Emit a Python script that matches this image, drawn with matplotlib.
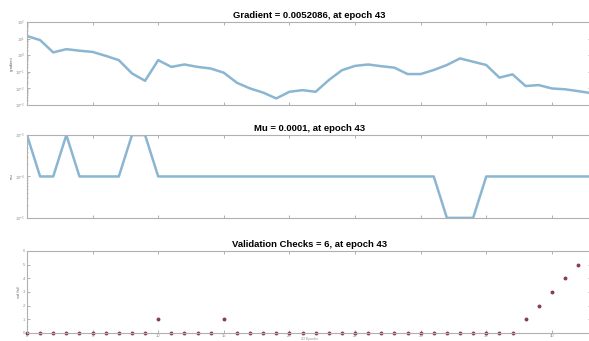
import numpy as np
import matplotlib
matplotlib.use('Agg')
import matplotlib.pyplot as plt

epochs = list(range(44))

gradient = [14.5, 8.3, 1.5, 2.35, 1.9, 1.6, 0.93, 0.51, 0.081, 0.029,
            0.51, 0.20, 0.28, 0.20, 0.16, 0.089, 0.022, 0.010, 0.0056, 0.0025,
            0.0063, 0.0079, 0.0063, 0.032, 0.126, 0.23, 0.28, 0.22, 0.18, 0.074,
            0.074, 0.13, 0.26, 0.65, 0.41, 0.26, 0.045, 0.071, 0.014, 0.016,
            0.010, 0.0089, 0.0069, 0.0052086]

mu = [1e-3, 1e-4, 1e-4, 1e-3, 1e-4, 1e-4, 1e-4, 1e-4, 1e-3, 1e-3,
      1e-4, 1e-4, 1e-4, 1e-4, 1e-4, 1e-4, 1e-4, 1e-4, 1e-4, 1e-4,
      1e-4, 1e-4, 1e-4, 1e-4, 1e-4, 1e-4, 1e-4, 1e-4, 1e-4, 1e-4,
      1e-4, 1e-4, 1e-5, 1e-5, 1e-5, 1e-4, 1e-4, 1e-4, 1e-4, 1e-4,
      1e-4, 1e-4, 1e-4, 1e-4]

val_fail = [0] * 44
val_fail[10] = 1
val_fail[15] = 1
for i, v in zip(range(38, 44), [1, 2, 3, 4, 5, 6]):
    val_fail[i] = v

titles = ['Gradient = 0.0052086, at epoch 43',
          'Mu = 0.0001, at epoch 43',
          'Validation Checks = 6, at epoch 43']
ylabels = ['gradient', 'mu', 'val fail']

line_color = '#8ab6d2'
dot_color = '#8a3c55'
edge_color = '#b0b0b0'
tick_color = '#909090'

plt.rcParams['font.family'] = ['Liberation Sans', 'DejaVu Sans']

fig = plt.figure(figsize=(5.89, 3.41), dpi=100)
fig.patch.set_facecolor('white')

boxes = [(0.0458, 0.692, 0.958, 0.243),
         (0.0458, 0.361, 0.958, 0.243),
         (0.0458, 0.0235, 0.958, 0.2405)]
axes = [fig.add_axes(b) for b in boxes]

def style(ax):
    for s in ax.spines.values():
        s.set_color(edge_color)
        s.set_linewidth(0.8)
    ax.tick_params(direction='in', length=2, width=0.5, colors=tick_color,
                   labelsize=3, top=True, right=True, pad=1.5)
    ax.tick_params(which='minor', direction='in', length=1, width=0.4,
                   colors=tick_color, top=False, right=True)
    ax.set_xlim(0, 43)
    ax.set_xticks(range(0, 44, 5))

# gradient
ax = axes[0]
ax.semilogy(epochs, gradient, color=line_color, lw=1.8)
ax.set_ylim(1e-3, 1e2)
style(ax)
ax.set_xticklabels([])

# mu
ax = axes[1]
ax.semilogy(epochs, mu, color=line_color, lw=1.8)
ax.set_ylim(1e-5, 1e-3)
style(ax)
ax.set_xticklabels([])

# validation checks
ax = axes[2]
ax.plot(epochs, val_fail, 'o', color=dot_color, ms=1.8, clip_on=False)
ax.set_ylim(0, 6)
ax.set_yticks(range(7))
style(ax)
ax.tick_params(axis='x', pad=0.8)
ax.set_xlabel('43 Epochs', fontsize=2.6, color=tick_color, labelpad=-0.5)

for ax, t, yl in zip(axes, titles, ylabels):
    ax.set_title(t, fontsize=6.8, fontweight='bold', pad=3)
    ax.set_ylabel(yl, fontsize=3, color='#606060', labelpad=1)

fig.savefig('out.png', dpi=100, facecolor='white')
